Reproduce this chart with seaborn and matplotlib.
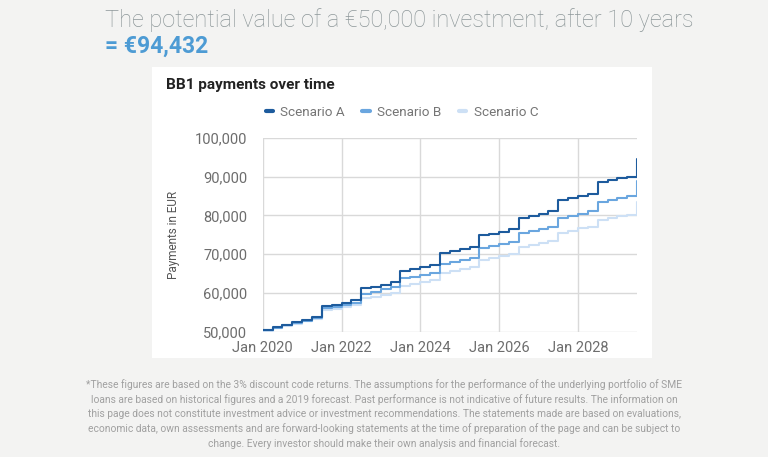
import pandas as pd
import numpy as np
import matplotlib.pyplot as plt
import matplotlib.dates as mdates
import seaborn as sns
from matplotlib.patches import Rectangle
from matplotlib.lines import Line2D
from matplotlib.ticker import FuncFormatter

# quarterly payment values
quarters = pd.date_range("2020-01-01", "2029-07-01", freq="QS")

scenario_a = [50400, 51100, 51800, 52400, 53000, 53700,
              56600, 57000, 57500, 58100,
              61200, 61600, 62100, 62700,
              65700, 66200, 66700, 67300,
              70200, 70700, 71200, 71800,
              74800, 75300, 75800, 76400,
              79400, 79900, 80400, 81000,
              83900, 84400, 84900, 85600,
              88500, 89000, 89500, 90000,
              94400]
scenario_b = [50400, 51000, 51600, 52200, 52800, 53500,
              56000, 56400, 56800, 57300,
              59800, 60300, 60900, 61500,
              63800, 64200, 64700, 65200,
              67400, 67900, 68400, 69000,
              71500, 72000, 72500, 73100,
              75500, 76000, 76500, 77000,
              79400, 79900, 80400, 81000,
              83400, 83900, 84400, 85000,
              88900]
scenario_c = [50300, 50900, 51500, 52100, 52700, 53300,
              55500, 55900, 56300, 56800,
              58600, 59000, 59500, 60000,
              61900, 62400, 62900, 63400,
              65200, 65700, 66200, 66700,
              68500, 69000, 69500, 70000,
              71900, 72400, 72900, 73400,
              75500, 76000, 76600, 77100,
              78700, 79200, 79700, 80100,
              83300]

names = ["Scenario A", "Scenario B", "Scenario C"]
colors = ["#1d5b9d", "#6aa6df", "#cde0f5"]

df = pd.DataFrame({"date": quarters, "Scenario A": scenario_a,
                   "Scenario B": scenario_b, "Scenario C": scenario_c})
long = df.melt(id_vars="date", var_name="scenario", value_name="value")

sns.set_style("white")
plt.rcParams["font.family"] = ["Roboto", "DejaVu Sans"]

fig = plt.figure(figsize=(7.68, 4.57), dpi=100)
fig.patch.set_facecolor("#f3f3f2")

# white card behind the chart
fig.patches.append(Rectangle((152 / 768, 1 - 358 / 457), (652 - 152) / 768, (358 - 67) / 457,
                             transform=fig.transFigure, facecolor="white", edgecolor="none", zorder=-5))

ax = fig.add_axes([262.7 / 768, 1 - 331.7 / 457, (637 - 262.7) / 768, (331.7 - 137.7) / 457])
ax.set_facecolor("white")

# draw lightest first so the dark line sits on top
for name, col in zip(names[::-1], colors[::-1]):
    sub = long[long["scenario"] == name]
    sns.lineplot(data=sub, x="date", y="value", ax=ax, color=col, linewidth=1.5,
                 drawstyle="steps-post", legend=False)

ax.set_xlim(pd.Timestamp("2020-01-01"), pd.Timestamp("2029-07-01"))
ax.set_ylim(50000, 100000)
ax.set_yticks(np.arange(50000, 100001, 10000))
ax.yaxis.set_major_formatter(FuncFormatter(lambda v, p: f"{int(v):,}"))
ax.xaxis.set_major_locator(mdates.YearLocator(2))
ax.xaxis.set_major_formatter(mdates.DateFormatter("Jan %Y"))
ax.grid(True, color="#d9d9d9", linewidth=1)
ax.set_axisbelow(True)
for s in ax.spines.values():
    s.set_visible(False)
ax.tick_params(axis="both", length=0, labelsize=10.5, labelcolor="#6d6d6d")
ax.tick_params(axis="y", pad=11)
ax.tick_params(axis="x", pad=7)
ax.set_xlabel("")
ax.set_ylabel("Payments in EUR", fontsize=8.5, color="#555555", labelpad=11)

# legend
handles = [Line2D([0], [0], color=c, linewidth=3) for c in colors]
fig.legend(handles, names, loc="center", bbox_to_anchor=(402 / 768, 1 - 112 / 457), ncol=3,
           frameon=False, fontsize=9.7, labelcolor="#757575", handlelength=0.55,
           handletextpad=0.55, columnspacing=1.3)

# titles
fig.text(105 / 768, 1 - 20 / 457, "The potential value of a €50,000 investment, after 10 years",
         fontsize=16.9, color="#8d9799", fontweight="light", va="center", ha="left")
fig.text(105 / 768, 1 - 46 / 457, "= €94,432", fontsize=16.5, color="#4d9bd4",
         fontweight="bold", va="center", ha="left")
fig.text(166 / 768, 1 - 85 / 457, "BB1 payments over time", fontsize=11, color="#222222",
         fontweight="bold", va="center", ha="left")

footer = ("*These figures are based on the 3% discount code returns. The assumptions for the performance of the underlying portfolio of SME\n"
          "loans are based on historical figures and a 2019 forecast. Past performance is not indicative of future results. The information on\n"
          "this page does not constitute investment advice or investment recommendations. The statements made are based on evaluations,\n"
          "economic data, own assessments and are forward-looking statements at the time of preparation of the page and can be subject to\n"
          "change. Every investor should make their own analysis and financial forecast.")
fig.text(384 / 768, 1 - 414 / 457, footer, fontsize=7.4, color="#a0a0a0", ha="center", va="center",
         linespacing=1.45)

fig.savefig("out.png", dpi=100, facecolor=fig.get_facecolor())
